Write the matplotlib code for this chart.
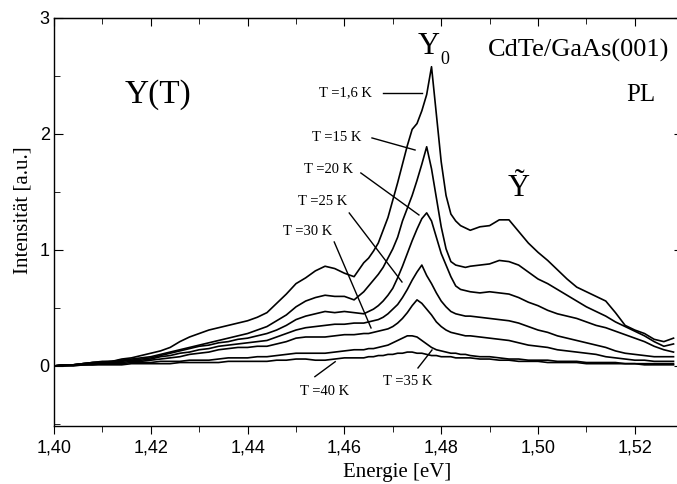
import matplotlib
matplotlib.use("Agg")
import matplotlib.pyplot as plt
from matplotlib.ticker import MultipleLocator, FuncFormatter

plt.rcParams["font.family"] = "Liberation Serif"

# photon energy grid [eV]
energy = [
    1.400, 1.402, 1.404, 1.406, 1.408, 1.410, 1.412, 1.414, 1.416, 1.418,
    1.420, 1.422, 1.424, 1.426, 1.428, 1.430, 1.432, 1.434, 1.436, 1.438,
    1.440, 1.442, 1.444, 1.446, 1.448, 1.450, 1.452, 1.454, 1.456, 1.458,
    1.460, 1.462, 1.464, 1.465, 1.466, 1.467, 1.468, 1.469, 1.470, 1.471,
    1.472, 1.473, 1.474, 1.475, 1.476, 1.477, 1.478, 1.479, 1.480, 1.481,
    1.482, 1.483, 1.484, 1.485, 1.486, 1.488, 1.490, 1.492, 1.494, 1.496,
    1.498, 1.500, 1.502, 1.504, 1.506, 1.508, 1.510, 1.512, 1.514, 1.516,
    1.518, 1.520, 1.522, 1.524, 1.526, 1.528,
]

# PL intensity [a.u.] per temperature
pl_1_6K = [
    0.00, 0.01, 0.01, 0.02, 0.03, 0.04, 0.04, 0.06, 0.07, 0.09,
    0.11, 0.13, 0.16, 0.21, 0.25, 0.28, 0.31, 0.33, 0.35, 0.37,
    0.39, 0.42, 0.46, 0.54, 0.62, 0.71, 0.76, 0.82, 0.86, 0.84,
    0.80, 0.77, 0.89, 0.93, 0.99, 1.06, 1.17, 1.28, 1.43, 1.58,
    1.74, 1.90, 2.04, 2.09, 2.20, 2.34, 2.58, 2.17, 1.76, 1.47,
    1.31, 1.25, 1.21, 1.19, 1.17, 1.20, 1.21, 1.26, 1.26, 1.16,
    1.06, 0.98, 0.91, 0.83, 0.75, 0.68, 0.64, 0.60, 0.56, 0.46,
    0.35, 0.31, 0.28, 0.23, 0.21, 0.24,
]
pl_15K = [
    0.00, 0.01, 0.01, 0.02, 0.03, 0.035, 0.04, 0.05, 0.06, 0.07,
    0.08, 0.10, 0.12, 0.14, 0.16, 0.18, 0.20, 0.22, 0.24, 0.26,
    0.28, 0.31, 0.34, 0.39, 0.44, 0.51, 0.56, 0.59, 0.61, 0.60,
    0.60, 0.57, 0.64, 0.69, 0.74, 0.79, 0.85, 0.93, 1.01, 1.11,
    1.25, 1.36, 1.47, 1.60, 1.74, 1.89, 1.70, 1.45, 1.20, 1.01,
    0.90, 0.87, 0.86, 0.85, 0.86, 0.87, 0.88, 0.91, 0.90, 0.87,
    0.81, 0.75, 0.71, 0.66, 0.61, 0.56, 0.51, 0.47, 0.43, 0.38,
    0.34, 0.30, 0.26, 0.21, 0.17, 0.19,
]
pl_20K = [
    0.00, 0.01, 0.01, 0.02, 0.03, 0.03, 0.04, 0.05, 0.05, 0.06,
    0.07, 0.09, 0.11, 0.13, 0.15, 0.17, 0.18, 0.20, 0.21, 0.23,
    0.24, 0.26, 0.28, 0.31, 0.35, 0.40, 0.43, 0.45, 0.47, 0.46,
    0.47, 0.46, 0.45, 0.47, 0.49, 0.52, 0.56, 0.61, 0.67, 0.76,
    0.86, 0.97, 1.08, 1.18, 1.27, 1.32, 1.25, 1.11, 0.97, 0.87,
    0.77, 0.69, 0.66, 0.65, 0.64, 0.63, 0.64, 0.63, 0.62, 0.59,
    0.55, 0.52, 0.48, 0.45, 0.43, 0.41, 0.38, 0.35, 0.33, 0.30,
    0.27, 0.24, 0.21, 0.17, 0.14, 0.12,
]
pl_25K = [
    0.00, 0.01, 0.01, 0.02, 0.02, 0.03, 0.03, 0.04, 0.05, 0.05,
    0.06, 0.08, 0.09, 0.11, 0.12, 0.14, 0.15, 0.17, 0.18, 0.19,
    0.20, 0.21, 0.22, 0.25, 0.28, 0.31, 0.33, 0.34, 0.35, 0.36,
    0.36, 0.37, 0.37, 0.38, 0.39, 0.40, 0.42, 0.45, 0.49, 0.53,
    0.59, 0.66, 0.74, 0.81, 0.87, 0.78, 0.71, 0.63, 0.56, 0.51,
    0.47, 0.45, 0.44, 0.43, 0.43, 0.42, 0.41, 0.40, 0.39, 0.37,
    0.34, 0.31, 0.29, 0.26, 0.24, 0.22, 0.20, 0.18, 0.16, 0.13,
    0.11, 0.10, 0.09, 0.08, 0.08, 0.08,
]
pl_30K = [
    0.00, 0.01, 0.01, 0.01, 0.02, 0.02, 0.03, 0.03, 0.04, 0.04,
    0.05, 0.06, 0.07, 0.08, 0.10, 0.11, 0.12, 0.14, 0.15, 0.16,
    0.16, 0.17, 0.17, 0.19, 0.21, 0.24, 0.25, 0.25, 0.25, 0.26,
    0.27, 0.27, 0.28, 0.28, 0.29, 0.30, 0.31, 0.32, 0.34, 0.37,
    0.41, 0.46, 0.52, 0.57, 0.54, 0.49, 0.44, 0.38, 0.34, 0.31,
    0.29, 0.28, 0.27, 0.26, 0.26, 0.25, 0.24, 0.23, 0.22, 0.20,
    0.18, 0.17, 0.16, 0.14, 0.13, 0.12, 0.11, 0.10, 0.08, 0.07,
    0.06, 0.05, 0.05, 0.04, 0.04, 0.04,
]
pl_35K = [
    0.00, 0.00, 0.01, 0.01, 0.01, 0.02, 0.02, 0.02, 0.03, 0.03,
    0.03, 0.04, 0.04, 0.04, 0.05, 0.05, 0.05, 0.06, 0.07, 0.07,
    0.07, 0.08, 0.08, 0.09, 0.10, 0.11, 0.11, 0.11, 0.11, 0.12,
    0.13, 0.14, 0.14, 0.15, 0.15, 0.16, 0.17, 0.18, 0.20, 0.22,
    0.24, 0.26, 0.26, 0.25, 0.22, 0.19, 0.16, 0.14, 0.13, 0.12,
    0.11, 0.11, 0.10, 0.10, 0.09, 0.08, 0.08, 0.07, 0.06, 0.06,
    0.05, 0.05, 0.05, 0.04, 0.04, 0.04, 0.03, 0.03, 0.03, 0.03,
    0.02, 0.02, 0.02, 0.02, 0.02, 0.02,
]
pl_40K = [
    0.00, 0.00, 0.00, 0.01, 0.01, 0.01, 0.01, 0.01, 0.02, 0.02,
    0.02, 0.02, 0.02, 0.03, 0.03, 0.03, 0.03, 0.03, 0.04, 0.04,
    0.04, 0.04, 0.04, 0.05, 0.05, 0.06, 0.06, 0.05, 0.05, 0.06,
    0.07, 0.07, 0.07, 0.08, 0.08, 0.09, 0.09, 0.10, 0.10, 0.11,
    0.11, 0.12, 0.12, 0.11, 0.11, 0.10, 0.09, 0.09, 0.08, 0.08,
    0.08, 0.07, 0.07, 0.07, 0.07, 0.06, 0.06, 0.05, 0.05, 0.04,
    0.04, 0.04, 0.03, 0.03, 0.03, 0.03, 0.02, 0.02, 0.02, 0.02,
    0.02, 0.02, 0.01, 0.01, 0.01, 0.01,
]

spectra = [pl_1_6K, pl_15K, pl_20K, pl_25K, pl_30K, pl_35K, pl_40K]
temp_labels = ["T =1,6 K", "T =15 K", "T =20 K", "T =25 K", "T =30 K", "T =35 K", "T =40 K"]

# label text centre and pointer line (start -> end), data coordinates
label_xy = [(1.4602, 2.353), (1.4584, 1.966), (1.4567, 1.698), (1.4555, 1.416),
            (1.4524, 1.158), (1.4730, -0.135), (1.4560, -0.222)]
pointer = [((1.4680, 2.353), (1.4760, 2.353)),
           ((1.4657, 1.966), (1.4746, 1.862)),
           ((1.4634, 1.664), (1.4754, 1.302)),
           ((1.4610, 1.319), (1.4719, 0.724)),
           ((1.4579, 1.069), (1.4655, 0.328)),
           ((1.4752, -0.017), (1.4781, 0.138)),
           ((1.4539, -0.092), (1.4581, 0.037))]

W, H = 677, 484
fig = plt.figure(figsize=(W / 100, H / 100), dpi=100)
ax = fig.add_axes([54 / W, 1 - 425.5 / H, (683.2 - 54) / W, (425.5 - 18) / H])

for y in spectra:
    ax.plot(energy, y, color="black", lw=1.2)

for txt, (tx, ty), ((x0, y0), (x1, y1)) in zip(temp_labels, label_xy, pointer):
    ax.text(tx, ty, txt, fontsize=10.5, ha="center", va="center")
    ax.plot([x0, x1], [y0, y1], color="black", lw=1.0)

ax.text(1.4215, 2.336, "Y(T)", fontsize=24, ha="center", va="center")
ax.text(1.4775, 2.75, "Y", fontsize=22, ha="center", va="center")
ax.text(1.4808, 2.638, "0", fontsize=13, ha="center", va="center")
ax.text(1.5083, 2.716, "CdTe/GaAs(001)", fontsize=19, ha="center", va="center")
ax.text(1.5213, 2.336, "PL", fontsize=18, ha="center", va="center")
ax.text(1.4959, 1.53, "\u1ef8", fontsize=22, ha="center", va="center")

ax.set_xlim(1.40, 1.53)
ax.set_ylim(-0.513, 3.0)

fmt = FuncFormatter(lambda v, p: f"{v:.2f}".replace(".", ","))
ax.xaxis.set_major_locator(MultipleLocator(0.02))
ax.xaxis.set_minor_locator(MultipleLocator(0.01))
ax.xaxis.set_major_formatter(fmt)
ax.yaxis.set_major_locator(MultipleLocator(1))
ax.yaxis.set_minor_locator(MultipleLocator(0.5))
ax.yaxis.set_major_formatter(FuncFormatter(lambda v, p: f"{v:.0f}"))

ax.tick_params(axis="x", which="both", direction="out", top=False, pad=4)
ax.tick_params(axis="x", which="major", length=6)
ax.tick_params(axis="x", which="minor", length=4)
ax.tick_params(axis="y", which="both", direction="in", right=True, pad=3)
ax.tick_params(axis="y", which="major", length=6.5)
ax.tick_params(axis="y", which="minor", length=4)
for lab in ax.get_xticklabels() + ax.get_yticklabels():
    lab.set_fontfamily("Liberation Sans")
    lab.set_fontsize(13)

top = ax.secondary_xaxis("top")
top.xaxis.set_major_locator(MultipleLocator(0.02))
top.xaxis.set_minor_locator(MultipleLocator(0.01))
top.tick_params(axis="x", which="both", direction="in", labeltop=False)
top.tick_params(axis="x", which="major", length=6)
top.tick_params(axis="x", which="minor", length=4)

for s in ax.spines.values():
    s.set_linewidth(1.0)

fig.text(397 / W, 1 - 473 / H, "Energie [eV]", fontsize=15, ha="center", va="center")
fig.text(23.5 / W, 1 - 210 / H, "Intensität [a.u.]", fontsize=15, ha="center",
         va="center", rotation=90)

fig.savefig("out.png", dpi=100)
